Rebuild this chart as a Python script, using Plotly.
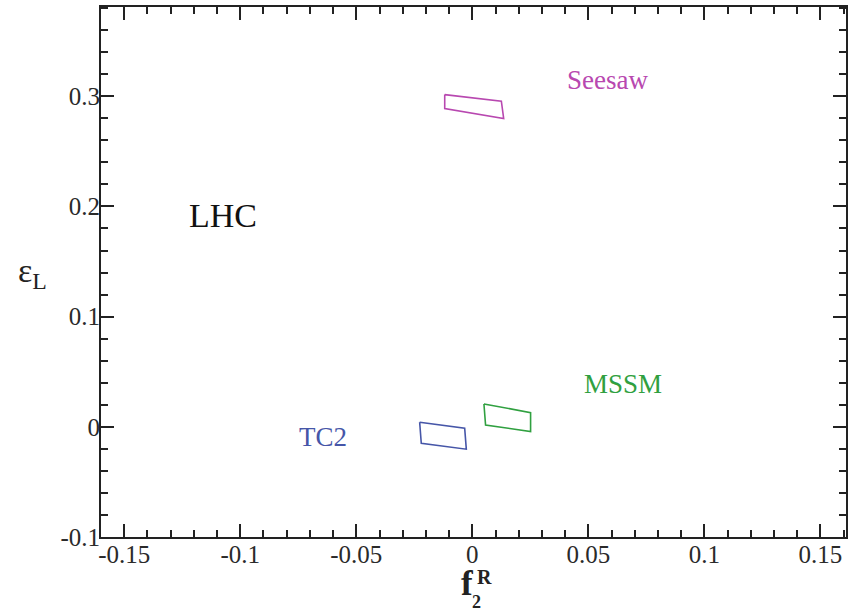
import plotly.graph_objects as go

# Contour regions (f2R, epsilon_L) corners, closed polygons
seesaw_x = [-0.0119, 0.0125, 0.0135, -0.0119, -0.0119]
seesaw_y = [0.3015, 0.2955, 0.2798, 0.2889, 0.3015]
mssm_x = [0.0050, 0.0251, 0.0251, 0.0057, 0.0050]
mssm_y = [0.0207, 0.0129, -0.0043, 0.0017, 0.0207]
tc2_x = [-0.0227, -0.0033, -0.0026, -0.0220, -0.0227]
tc2_y = [0.0042, -0.0013, -0.0203, -0.0149, 0.0042]

x_tickvals = [-0.15, -0.1, -0.05, 0, 0.05, 0.1, 0.15]
x_ticktext = ["-0.15", "-0.1", "-0.05", "0", "0.05", "0.1", "0.15"]
y_tickvals = [-0.1, 0, 0.1, 0.2, 0.3]
y_ticktext = ["-0.1", "0", "0.1", "0.2", "0.3"]

c_seesaw = "#b848b0"
c_mssm = "#30a040"
c_tc2 = "#4656a8"

serif = "Liberation Serif"

fig = go.Figure()
for xs, ys, col, nm in [(seesaw_x, seesaw_y, c_seesaw, "Seesaw"),
                        (mssm_x, mssm_y, c_mssm, "MSSM"),
                        (tc2_x, tc2_y, c_tc2, "TC2")]:
    fig.add_trace(go.Scatter(x=xs, y=ys, mode="lines", name=nm,
                             line=dict(color=col, width=1.6), showlegend=False,
                             hoverinfo="skip"))

axis_common = dict(
    showgrid=False, zeroline=False, showline=True, linewidth=2, linecolor="#222",
    mirror="ticks", ticks="inside", ticklen=13, tickwidth=2, tickcolor="#222",
    tickfont=dict(family=serif, size=25, color="#2a2a2a"), automargin=False,
)
fig.update_xaxes(range=[-0.16, 0.161], tickvals=x_tickvals, ticktext=x_ticktext,
                 minor=dict(dtick=0.01, ticklen=7, tickwidth=1.5, ticks="inside", tickcolor="#222"),
                 ticklabelstandoff=-6,
                 **axis_common)
fig.update_yaxes(range=[-0.1, 0.381], tickvals=y_tickvals, ticktext=y_ticktext,
                 minor=dict(dtick=0.02, ticklen=7, tickwidth=1.5, ticks="inside", tickcolor="#222"),
                 ticklabelstandoff=-6,
                 **axis_common)

ann = [
    dict(x=0.0583, y=0.315, text="Seesaw", color=c_seesaw, size=27),
    dict(x=0.0647, y=0.0388, text="MSSM", color=c_mssm, size=27),
    dict(x=-0.0645, y=-0.0092, text="TC2", color=c_tc2, size=27),
    dict(x=-0.1075, y=0.192, text="LHC", color="#111", size=34),
]
for a in ann:
    fig.add_annotation(x=a["x"], y=a["y"], text=a["text"], showarrow=False,
                       font=dict(family=serif, size=a["size"], color=a["color"]))

# axis titles
title_font = dict(family=serif, color="#222")
fig.add_annotation(xref="paper", yref="paper", x=-0.0926, y=0.498, text="ε<sub>L</sub>",
                   xanchor="center", yanchor="middle",
                   showarrow=False, font=dict(size=34, **title_font))
fig.add_annotation(xref="paper", yref="paper", x=0.4913, y=-0.0868, text="<b>f</b>",
                   xanchor="center", yanchor="middle",
                   showarrow=False, font=dict(size=35, **title_font))
fig.add_annotation(xref="paper", yref="paper", x=0.5154, y=-0.0755, text="<b>R</b>",
                   xanchor="center", yanchor="middle",
                   showarrow=False, font=dict(size=20, **title_font))
fig.add_annotation(xref="paper", yref="paper", x=0.5034, y=-0.1445, text="<b>2</b>",
                   xanchor="center", yanchor="bottom",
                   showarrow=False, font=dict(size=18, **title_font))

fig.update_layout(width=859, height=614, margin=dict(l=101, r=13, t=7, b=77),
                  plot_bgcolor="white", paper_bgcolor="white")
fig.write_html("out.html", config={"displayModeBar": False},
               post_script="document.body.style.margin='0px';")
